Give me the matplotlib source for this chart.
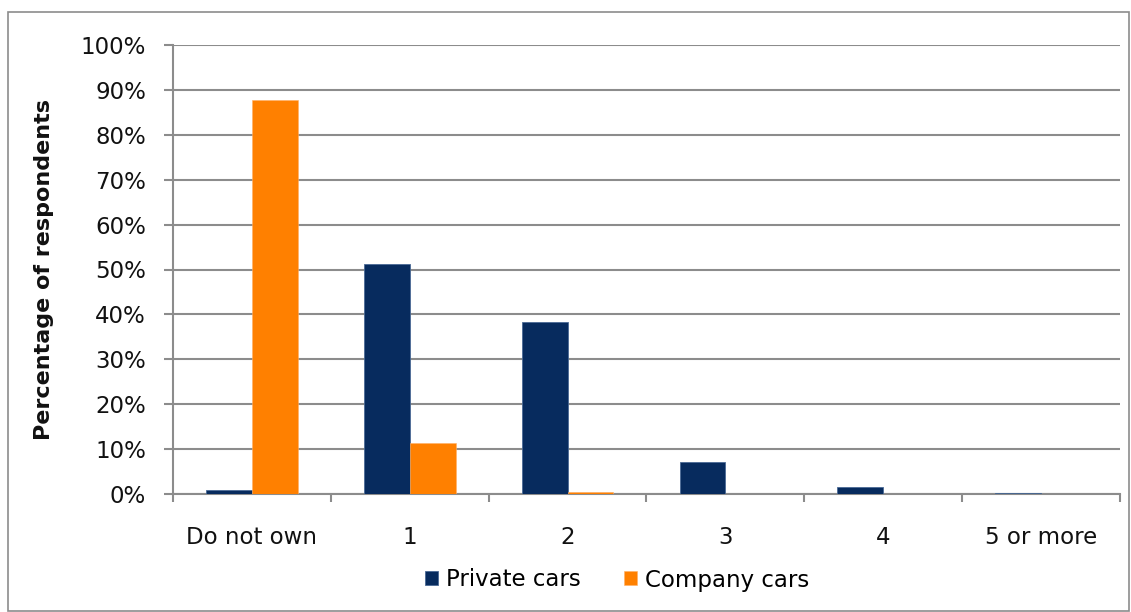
import matplotlib
matplotlib.use("Agg")
import matplotlib.pyplot as plt
import numpy as np
from matplotlib.patches import Rectangle
from matplotlib.ticker import FuncFormatter, FixedLocator

categories = ["Do not own", "1", "2", "3", "4", "5 or more"]
private_cars = [1.0, 51.2, 38.3, 7.1, 1.5, 0.3]
company_cars = [87.7, 11.4, 0.5, 0.0, 0.0, 0.0]
y_ticks = list(range(0, 101, 10))

navy = "#072B5E"
orange = "#FF8000"
grid_grey = "#8C8C8C"
text_col = "#111111"

plt.rcParams["font.family"] = ["DejaVu Sans"]

fig = plt.figure(figsize=(11.31, 6.12), dpi=100)
ax = fig.add_axes([173 / 1131, 1 - 494 / 612, (1120 - 173) / 1131, (494 - 45) / 612])

x = np.arange(len(categories))
w = 0.29
ax.bar(x - w / 2, private_cars, width=w, color=navy, edgecolor="#4A6A95",
       linewidth=0.6, label="Private cars", zorder=3)
ax.bar(x + w / 2, company_cars, width=w, color=orange, edgecolor="#FFB066",
       linewidth=0.4, label="Company cars", zorder=3)

ax.set_xlim(-0.5, len(categories) - 0.5)
ax.set_ylim(0, 100)
ax.set_yticks(y_ticks)
ax.yaxis.set_major_formatter(FuncFormatter(lambda v, p: f"{int(v)}%"))
ax.grid(axis="y", color=grid_grey, linewidth=1.5, zorder=0)

ax.set_xticks(x)
ax.set_xticklabels(categories)
ax.xaxis.set_minor_locator(FixedLocator(np.arange(-0.5, len(categories), 1.0)))
ax.tick_params(axis="x", which="major", length=0, pad=23, labelsize=16.5, colors=text_col)
ax.tick_params(axis="x", which="minor", length=6, width=1.5, color=grid_grey)
ax.tick_params(axis="y", length=6.5, width=1.5, color=grid_grey, labelsize=16.5,
               labelcolor=text_col, pad=13)

for side in ["top", "right"]:
    ax.spines[side].set_visible(False)
for side in ["left", "bottom"]:
    ax.spines[side].set_color(grid_grey)
    ax.spines[side].set_linewidth(1.5)

ax.set_ylabel("Percentage of respondents", fontsize=16, fontweight="bold",
              color=text_col)
ax.yaxis.set_label_coords(-(173 - 54) / 947, 0.5)

ax.legend(loc="center", bbox_to_anchor=((617 - 173) / 947, -(580 - 494) / 449), ncol=2,
          frameon=False, fontsize=16.5, handlelength=0.55, handleheight=0.55,
          handletextpad=0.35, columnspacing=1.9, borderpad=0, borderaxespad=0)

fig.patches.append(Rectangle((8 / 1131, 1 - 611 / 612), (1129 - 8) / 1131, (611 - 12) / 612,
                             transform=fig.transFigure, fill=False,
                             edgecolor="#8C8C8C", linewidth=1.2))

fig.savefig("out.png", dpi=100)
